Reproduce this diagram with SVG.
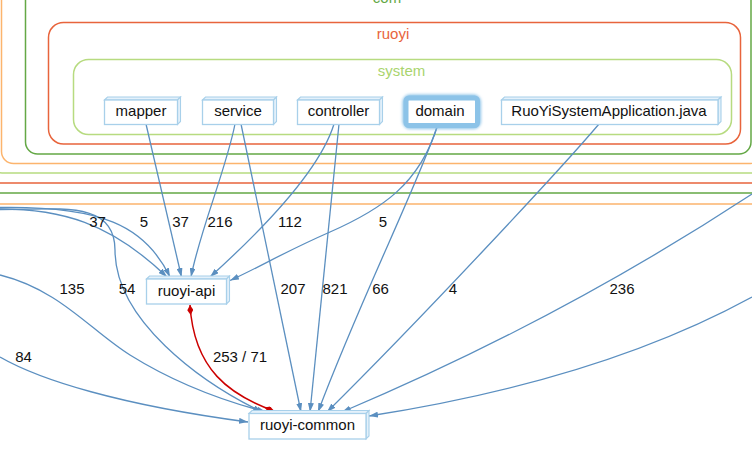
<svg xmlns="http://www.w3.org/2000/svg" width="752" height="454" viewBox="0 0 752 454">
<style>
  .cont { fill: none; stroke-width: 1.5; }
  .orange { stroke: #fcb46d; }
  .lgreen { stroke: #b7db80; }
  .red { stroke: #e8643c; }
  .green { stroke: #64a846; }
  .clabel { font-family: "Liberation Sans", Arial, sans-serif; font-size: 15px; text-anchor: middle; }
  .front { fill: #ffffff; stroke: #a8d0ea; stroke-width: 1.3; }
  .depth { fill: #e4f1fb; stroke: #a8d0ea; stroke-width: 1.1; }
  .nlabel { font-family: "Liberation Sans", Arial, sans-serif; font-size: 15px; fill: #111; text-anchor: middle; }
  .edge { fill: none; stroke: #5b8fc0; stroke-width: 1.3; marker-end: url(#arrow); }
  .dep { fill: none; stroke: #cc0000; stroke-width: 1.5; marker-start: url(#diamond); marker-end: url(#diamond); }
  .elabel { font-family: "Liberation Sans", Arial, sans-serif; font-size: 15px; fill: #111; text-anchor: middle; }
</style>
<defs>
  <marker id="arrow" viewBox="0 0 9 6" refX="9" refY="3" markerWidth="9" markerHeight="6" markerUnits="userSpaceOnUse" orient="auto">
    <path d="M0,0 L9,3 L0,6 z" fill="#5b8fc0"/>
  </marker>
  <marker id="diamond" viewBox="0 0 10 6" refX="10" refY="3" markerWidth="10" markerHeight="6" markerUnits="userSpaceOnUse" orient="auto-start-reverse">
    <path d="M0,3 L5,0 L10,3 L5,6 z" fill="#cc0000"/>
  </marker>
  <filter id="glow" x="-20%" y="-40%" width="140%" height="180%">
    <feGaussianBlur stdDeviation="1.6"/>
  </filter>
</defs>

<g id="containers">
  <rect class="cont orange" x="-40" y="-80" width="840" height="284" rx="12"/>
  <rect class="cont green" x="-30" y="-70" width="820" height="263" rx="12"/>
  <rect class="cont red" x="-20" y="-60" width="800" height="243" rx="12"/>
  <rect class="cont lgreen" x="-10" y="-50" width="780" height="223" rx="12"/>
  <g id="pkg-outer">
    <rect class="cont orange" x="1.5" y="-40" width="760" height="203.5" rx="12"/>
  </g>
  <g id="pkg-com">
    <rect class="cont green" x="25.5" y="-30" width="725.5" height="184" rx="12"/>
    <text class="clabel" x="387" y="3" fill="#64a846">com</text>
  </g>
  <g id="pkg-ruoyi">
    <rect class="cont red" x="48.5" y="22.5" width="692" height="121.5" rx="15"/>
    <text class="clabel" x="393" y="38.5" fill="#e8643c">ruoyi</text>
  </g>
  <g id="pkg-system">
    <rect class="cont lgreen" x="73.5" y="59.5" width="658" height="75" rx="15"/>
    <text class="clabel" x="401.5" y="76" fill="#a9d46e">system</text>
  </g>
</g>

<g id="connectors">
  <!-- to ruoyi-api -->
  <path class="edge" d="M0,209 C60,209 110,222 167,277"/>
  <path class="edge" d="M0,207.5 C100,206 145,225 170,277"/>
  <path class="edge" d="M146,124 L181.5,277"/>
  <path class="edge" d="M235,124 C226,170 200,230 191,277"/>
  <path class="edge" d="M334,124 C320,170 262,230 210,277"/>
  <path class="edge" d="M438,124 C420,185 380,210 330,232 S262,266 230,280.5"/>
  <!-- to ruoyi-common -->
  <path class="edge" d="M0,209.5 C60,209.5 115,200 115,250 C115,320 200,382 262,412"/>
  <path class="edge" d="M0,275 C60,290 90,330 130,355 C170,380 220,400 266,412"/>
  <path class="edge" d="M0,357 C40,380 120,405 248,422"/>
  <path class="edge" d="M241,124 L301,412"/>
  <path class="edge" d="M339,124 L310,412"/>
  <path class="edge" d="M438,124 C420,180 360,300 318,412"/>
  <path class="edge" d="M599,124 C560,170 420,320 327,412"/>
  <path class="edge" d="M752,194 Q560,320 342,412"/>
  <path class="edge" d="M752,297 Q600,380 369,416"/>
  <!-- cycle -->
  <path class="dep" d="M190,305 C194,370 230,395 274,411"/>
</g>

<g id="edge-labels">
  <text class="elabel" x="97.5" y="227">37</text>
  <text class="elabel" x="144" y="227">5</text>
  <text class="elabel" x="180.5" y="227">37</text>
  <text class="elabel" x="220" y="227">216</text>
  <text class="elabel" x="290" y="227">112</text>
  <text class="elabel" x="383" y="227">5</text>
  <text class="elabel" x="72" y="294">135</text>
  <text class="elabel" x="127" y="294">54</text>
  <text class="elabel" x="293" y="294">207</text>
  <text class="elabel" x="335" y="294">821</text>
  <text class="elabel" x="380.5" y="294">66</text>
  <text class="elabel" x="453" y="294">4</text>
  <text class="elabel" x="622" y="294">236</text>
  <text class="elabel" x="23.5" y="362">84</text>
  <text class="elabel" x="240" y="362">253 / 71</text>
</g>

<g id="node-mapper">
  <polygon class="depth" points="104.5,100 107.5,97 180.5,97 177.5,100"/>
  <polygon class="depth" points="177.5,100 180.5,97 180.5,121.5 177.5,124.5"/>
  <rect class="front" x="104.5" y="100" width="73" height="24.5"/>
  <text class="nlabel" x="141" y="115.5">mapper</text>
</g>
<g id="node-service">
  <polygon class="depth" points="202.5,100 205.5,97 276.5,97 273.5,100"/>
  <polygon class="depth" points="273.5,100 276.5,97 276.5,121.5 273.5,124.5"/>
  <rect class="front" x="202.5" y="100" width="71" height="24.5"/>
  <text class="nlabel" x="238" y="115.5">service</text>
</g>
<g id="node-controller">
  <polygon class="depth" points="297.5,100 300.5,97 382.5,97 379.5,100"/>
  <polygon class="depth" points="379.5,100 382.5,97 382.5,121.5 379.5,124.5"/>
  <rect class="front" x="297.5" y="100" width="82" height="24.5"/>
  <text class="nlabel" x="338.5" y="115.5">controller</text>
</g>
<g id="node-domain">
  <rect x="406" y="98" width="71.5" height="27.5" rx="4" fill="none" stroke="#8cc3e8" stroke-width="7" filter="url(#glow)"/>
  <rect x="406" y="98" width="71.5" height="27.5" rx="3" fill="#ffffff" stroke="#8cc3e8" stroke-width="5"/>
  <text class="nlabel" x="440" y="115.5">domain</text>
</g>
<g id="node-app">
  <polygon class="depth" points="501.5,100 504.5,97 721,97 718,100"/>
  <polygon class="depth" points="718,100 721,97 721,121.5 718,124.5"/>
  <rect class="front" x="501.5" y="100" width="216.5" height="24.5"/>
  <text class="nlabel" x="609" y="115.5">RuoYiSystemApplication.java</text>
</g>
<g id="node-ruoyi-api">
  <polygon class="depth" points="146.5,279 149.5,276 229.5,276 226.5,279"/>
  <polygon class="depth" points="226.5,279 229.5,276 229.5,301 226.5,304"/>
  <rect class="front" x="146.5" y="279" width="80" height="25"/>
  <text class="nlabel" x="186.5" y="296">ruoyi-api</text>
</g>
<g id="node-ruoyi-common">
  <polygon class="depth" points="249,413.5 252,410.5 369,410.5 366,413.5"/>
  <polygon class="depth" points="366,413.5 369,410.5 369,436 366,439"/>
  <rect class="front" x="249" y="413.5" width="117" height="25.5"/>
  <text class="nlabel" x="307.5" y="430">ruoyi-common</text>
</g>
</svg>
